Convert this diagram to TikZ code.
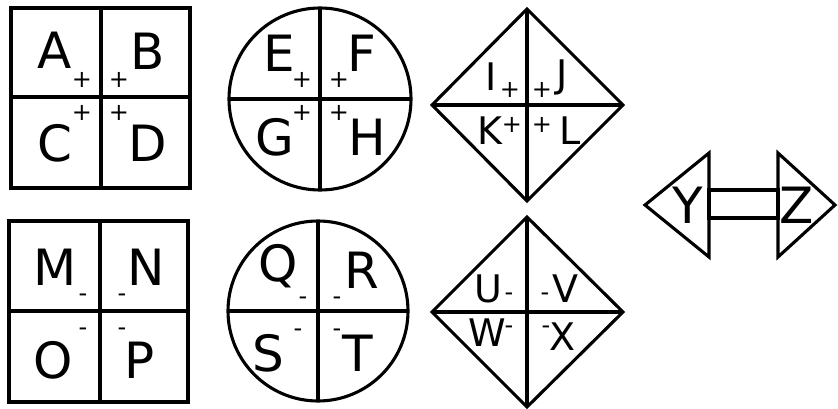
\documentclass[tikz,border=0pt]{standalone}
\usepackage{fontspec}
\setmainfont{DejaVu Sans}
\begin{document}
\begin{tikzpicture}[x=1pt, y=-1pt, line width=3.1pt, line join=miter,
  bigtxt/.style={font=\fontsize{50}{50}\selectfont, inner sep=0pt},
  midtxt/.style={font=\fontsize{38}{38}\selectfont, inner sep=0pt},
  sgntxt/.style={font=\fontsize{24}{24}\selectfont, inner sep=0pt}]
\useasboundingbox (0,0) rectangle (838,409);
% top row
\draw (11,8) rectangle (190,188);
\draw (101,8) -- (101,188);
\draw (11,97) -- (190,97);
\node[bigtxt] (A) at (55,50) {A};
\node[bigtxt] (B) at (148,51) {B};
\node[bigtxt] (C) at (55,143) {C};
\node[bigtxt] (D) at (148,143) {D};
\node[sgntxt] (pA) at (82,80) {+};
\node[sgntxt] (pB) at (119,80) {+};
\node[sgntxt] (pC) at (82,113) {+};
\node[sgntxt] (pD) at (119,113) {+};
\draw (320,99) circle (91);
\draw (320,8) -- (320,190);
\draw (229,99) -- (411,99);
\node[bigtxt] (E) at (279,53) {E};
\node[bigtxt] (F) at (362,53) {F};
\node[bigtxt] (G) at (275,137) {G};
\node[bigtxt] (H) at (367,137) {H};
\node[sgntxt] (pE) at (302,80) {+};
\node[sgntxt] (pF) at (339,80) {+};
\node[sgntxt] (pG) at (302,113) {+};
\node[sgntxt] (pH) at (339,113) {+};
\draw (432,105) -- (527,9) -- (623,105) -- (527,201) -- cycle;
\draw (527,9) -- (527,201);
\draw (432,105) -- (623,105);
\node[midtxt] (I) at (491,77) {I};
\node[midtxt] (J) at (562,77) {J};
\node[midtxt] (K) at (490,131) {K};
\node[midtxt] (L) at (570,131) {L};
\node[sgntxt] (pI) at (510,90) {+};
\node[sgntxt] (pJ) at (542,90) {+};
\node[sgntxt] (pK) at (512,125) {+};
\node[sgntxt] (pL) at (542,125) {+};
% bottom row
\draw (9,221) rectangle (188,402);
\draw (100,221) -- (100,402);
\draw (9,311) -- (188,311);
\node[bigtxt] (M) at (55,267) {M};
\node[bigtxt] (N) at (146,267) {N};
\node[bigtxt] (O) at (53,360) {O};
\node[bigtxt] (P) at (140,360) {P};
\node[sgntxt] (mM) at (83,298) {-};
\node[sgntxt] (mN) at (122,298) {-};
\node[sgntxt] (mO) at (83,332) {-};
\node[sgntxt] (mP) at (122,332) {-};
\draw (318,311) circle (90);
\draw (318,221) -- (318,401);
\draw (228,311) -- (408,311);
\node[bigtxt] (Q) at (278,266) {Q};
\node[bigtxt] (R) at (362,270) {R};
\node[bigtxt] (S) at (268,353) {S};
\node[bigtxt] (T) at (358,353) {T};
\node[sgntxt] (mQ) at (303,301) {-};
\node[sgntxt] (mR) at (337,301) {-};
\node[sgntxt] (mS) at (298,333) {-};
\node[sgntxt] (mT) at (337,333) {-};
\draw (432,312) -- (527,217) -- (623,312) -- (527,407) -- cycle;
\draw (527,217) -- (527,407);
\draw (432,312) -- (623,312);
\node[midtxt] (U) at (488,289) {U};
\node[midtxt] (V) at (565,289) {V};
\node[midtxt] (W) at (487,333) {W};
\node[midtxt] (X) at (563,337) {X};
\node[sgntxt] (mU) at (509,297) {-};
\node[sgntxt] (mV) at (545,297) {-};
\node[sgntxt] (mW) at (509,330) {-};
\node[sgntxt] (mX) at (546,330) {-};
% double arrow
\draw (709,153) -- (645,205) -- (709,257) -- cycle;
\draw (778,153) -- (835,205) -- (778,257) -- cycle;
\draw (709,190) rectangle (778,218);
\node[bigtxt] (Y) at (688,205) {Y};
\node[bigtxt] (Z) at (797,205) {Z};
\end{tikzpicture}
\end{document}
